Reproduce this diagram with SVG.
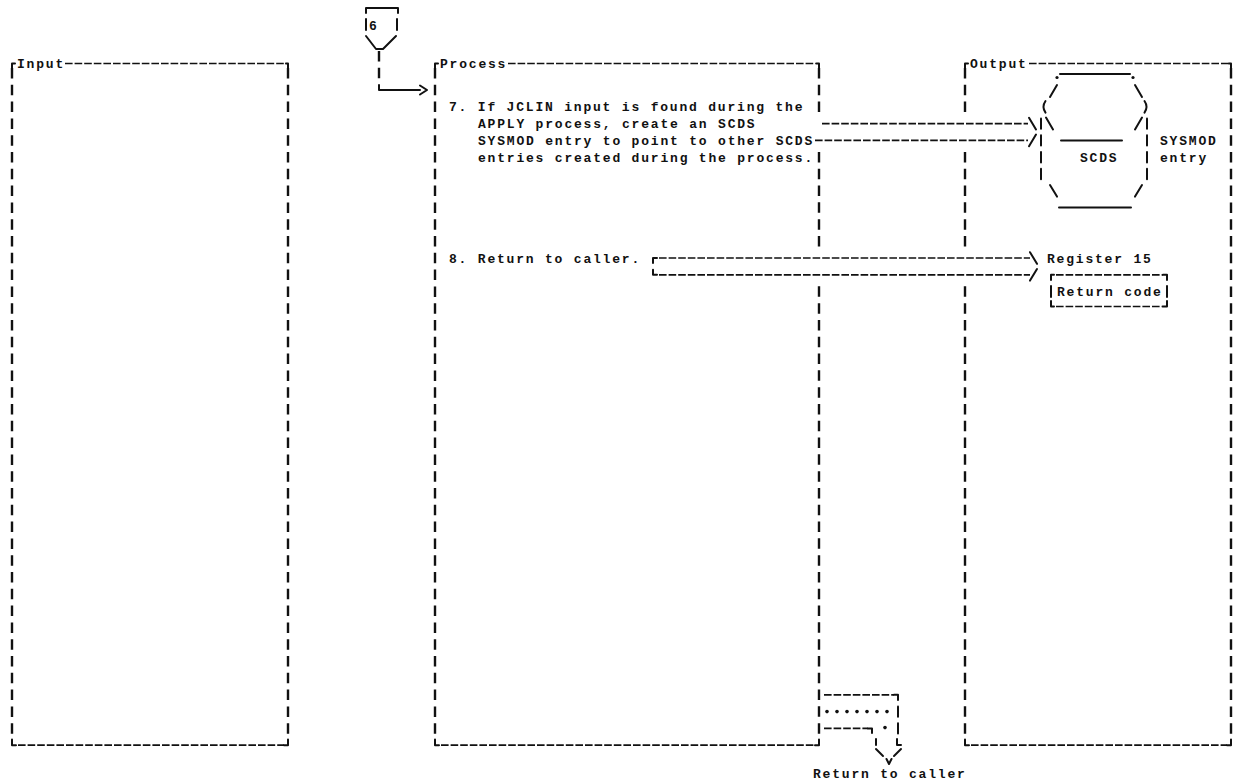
<svg xmlns="http://www.w3.org/2000/svg" width="1246" height="782" viewBox="0 0 1246 782">
<style>
.t{font-family:"Liberation Mono","DejaVu Sans Mono",monospace;font-size:13px;font-weight:bold;letter-spacing:1.8px;fill:#111}
.h{stroke:#111;stroke-width:1.7;fill:none;stroke-dasharray:7.6 2}
.v{stroke:#111;stroke-width:2.4;fill:none;stroke-dasharray:10.5 6.3}
.s{stroke:#111;stroke-width:2;fill:none;stroke-linecap:round;stroke-linejoin:round}
.d{fill:#111}
</style>
<rect width="1246" height="782" fill="#fff"/>

<g id="input-box">
  <path class="s" d="M12,68 V63.5 H15"/>
  <text class="t" x="17" y="67.5">Input</text>
  <line class="h" x1="65" y1="63.5" x2="286" y2="63.5"/>
  <path class="s" d="M286,63.5 H288 V68"/>
  <line class="v" x1="12" y1="68" x2="12" y2="734"/>
  <line class="v" x1="288" y1="68" x2="288" y2="734"/>
  <path class="s" d="M12,739.5 V745.2 H16"/>
  <line class="h" x1="18" y1="745.2" x2="284" y2="745.2"/>
  <path class="s" d="M284,745.2 H288 V739.5"/>
</g>

<g id="process-box">
  <path class="s" d="M435,68 V63.5 H438"/>
  <text class="t" x="440" y="67.5">Process</text>
  <line class="h" x1="508" y1="63.5" x2="817" y2="63.5"/>
  <path class="s" d="M817,63.5 H819 V68"/>
  <line class="v" x1="435" y1="68" x2="435" y2="734"/>
  <line class="v" x1="819" y1="68" x2="819" y2="112.1"/>
  <line class="v" x1="819" y1="151.95" x2="819" y2="246.5"/>
  <line class="v" x1="819" y1="286.35" x2="819" y2="734"/>
  <path class="s" d="M435,739.5 V745.2 H439"/>
  <line class="h" x1="441" y1="745.2" x2="815" y2="745.2"/>
  <path class="s" d="M815,745.2 H819 V739.5"/>
</g>

<g id="output-box">
  <path class="s" d="M965,68 V63.5 H968"/>
  <text class="t" x="970" y="67.5">Output</text>
  <line class="h" x1="1029" y1="63.5" x2="1229" y2="63.5"/>
  <path class="s" d="M1229,63.5 H1231 V68"/>
  <line class="v" x1="965" y1="68" x2="965" y2="112.1"/>
  <line class="v" x1="965" y1="151.95" x2="965" y2="246.5"/>
  <line class="v" x1="965" y1="286.35" x2="965" y2="734"/>
  <line class="v" x1="1231" y1="68" x2="1231" y2="734"/>
  <path class="s" d="M965,739.5 V745.2 H969"/>
  <line class="h" x1="971" y1="745.2" x2="1227" y2="745.2"/>
  <path class="s" d="M1227,745.2 H1231 V739.5"/>
</g>

<g id="connector-6">
  <path class="s" d="M366,13 V8 H398 V13"/>
  <line class="s" x1="366" y1="19" x2="366" y2="30"/>
  <text class="t" x="369" y="29.5">6</text>
  <line class="s" x1="397" y1="19" x2="397" y2="30"/>
  <path class="s" d="M366,36 L376,49 H383 L396,36"/>
</g>

<g id="step-7">
  <text class="t" x="449" y="111.3">7. If JCLIN input is found during the</text>
  <text class="t" x="478" y="128.1">APPLY process, create an SCDS</text>
  <text class="t" x="478" y="144.9">SYSMOD entry to point to other SCDS</text>
  <text class="t" x="478" y="161.7">entries created during the process.</text>
</g>

<g id="step-8">
  <text class="t" x="449" y="262.5">8. Return to caller.</text>
</g>

<g id="scds-sysmod-entry">
  <line class="s" x1="1060" y1="74" x2="1130" y2="74"/>
  <circle class="d" cx="1057" cy="77.5" r="1.6"/>
  <circle class="d" cx="1133" cy="77.5" r="1.6"/>
  <line class="s" x1="1050" y1="97" x2="1057" y2="85"/>
  <line class="s" x1="1135" y1="85" x2="1142" y2="97"/>
  <path class="s" d="M1045.5,101 Q1041.5,106.8 1045.5,112.6"/>
  <path class="s" d="M1144.5,101 Q1148.5,106.8 1144.5,112.6"/>
  <line class="s" x1="1041" y1="118.4" x2="1041" y2="128.8"/>
  <line class="s" x1="1046" y1="117.6" x2="1053" y2="129.4"/>
  <line class="s" x1="1142" y1="117.6" x2="1135" y2="129.4"/>
  <line class="s" x1="1147" y1="118.4" x2="1147" y2="128.8"/>
  <line class="s" x1="1041" y1="135.2" x2="1041" y2="145.6"/>
  <line class="s" x1="1061" y1="140.4" x2="1122" y2="140.4"/>
  <line class="s" x1="1147" y1="135.2" x2="1147" y2="145.6"/>
  <line class="s" x1="1041" y1="152" x2="1041" y2="162.4"/>
  <text class="t" x="1080" y="161.7">SCDS</text>
  <line class="s" x1="1147" y1="152" x2="1147" y2="162.4"/>
  <line class="s" x1="1041" y1="168.8" x2="1041" y2="179.2"/>
  <line class="s" x1="1147" y1="168.8" x2="1147" y2="179.2"/>
  <line class="s" x1="1050" y1="185" x2="1057" y2="196.6"/>
  <line class="s" x1="1142" y1="185" x2="1135" y2="196.6"/>
  <line class="s" x1="1059" y1="207.6" x2="1131" y2="207.6"/>
  <text class="t" x="1160" y="144.9">SYSMOD</text>
  <text class="t" x="1160" y="161.7">entry</text>
</g>

<g id="register-15">
  <text class="t" x="1047" y="262.5">Register 15</text>
  <path class="s" d="M1051,280 V274.8 H1054"/>
  <line class="h" x1="1056" y1="274.8" x2="1163" y2="274.8"/>
  <path class="s" d="M1163,274.8 H1167 V280"/>
  <line class="s" x1="1051" y1="286" x2="1051" y2="297"/>
  <text class="t" x="1057" y="296">Return code</text>
  <line class="s" x1="1167" y1="286" x2="1167" y2="297"/>
  <path class="s" d="M1051,301 V306.5 H1054"/>
  <line class="h" x1="1056" y1="306.5" x2="1163" y2="306.5"/>
  <path class="s" d="M1163,306.5 H1167 V301"/>
</g>

<g id="offpage-return">
  <line class="h" x1="824" y1="694.8" x2="894" y2="694.8"/>
  <path class="s" d="M894,694.8 H898 V700"/>
  <circle class="d" cx="827" cy="711.6" r="1.8"/>
  <circle class="d" cx="837" cy="711.6" r="1.8"/>
  <circle class="d" cx="847" cy="711.6" r="1.8"/>
  <circle class="d" cx="857" cy="711.6" r="1.8"/>
  <circle class="d" cx="867" cy="711.6" r="1.8"/>
  <circle class="d" cx="877" cy="711.6" r="1.8"/>
  <circle class="d" cx="887" cy="711.6" r="1.8"/>
  <line class="s" x1="898" y1="706.4" x2="898" y2="716.8"/>
  <line class="h" x1="824" y1="728.4" x2="868" y2="728.4"/>
  <path class="s" d="M868,728.4 H872 V733"/>
  <circle class="d" cx="885" cy="727.6" r="1.8"/>
  <line class="s" x1="898" y1="723.2" x2="898" y2="733.6"/>
  <line class="s" x1="876" y1="739" x2="876" y2="745"/>
  <path class="s" d="M897,739 V745 H901"/>
  <line class="s" x1="876" y1="749" x2="883" y2="756"/>
  <line class="s" x1="901" y1="749" x2="894" y2="756"/>
  <path class="s" d="M886.5,759 L889,764 L891.5,759"/>
  <text class="t" x="813" y="778">Return to caller</text>
</g>

<g id="connectors">
  <line class="v" x1="379" y1="51" x2="379" y2="79"/>
  <path class="s" d="M379,85 V90 H420"/>
  <polyline class="s" points="420,85.5 427,90 420,94.5"/>
  <line class="h" x1="822" y1="123.6" x2="1028" y2="123.6"/>
  <line class="s" x1="1029" y1="117.8" x2="1036" y2="129.4"/>
  <line class="h" x1="815" y1="140.4" x2="1028" y2="140.4"/>
  <line class="s" x1="1029" y1="146.2" x2="1036" y2="134.6"/>
  <path class="s" d="M653,263 V258 H657"/>
  <line class="h" x1="659" y1="258" x2="1030" y2="258"/>
  <line class="s" x1="1030" y1="252.2" x2="1037" y2="263.8"/>
  <path class="s" d="M653,269.8 V274.8 H657"/>
  <line class="h" x1="659" y1="274.8" x2="1030" y2="274.8"/>
  <line class="s" x1="1030" y1="280.6" x2="1037" y2="269"/>
</g>
</svg>
